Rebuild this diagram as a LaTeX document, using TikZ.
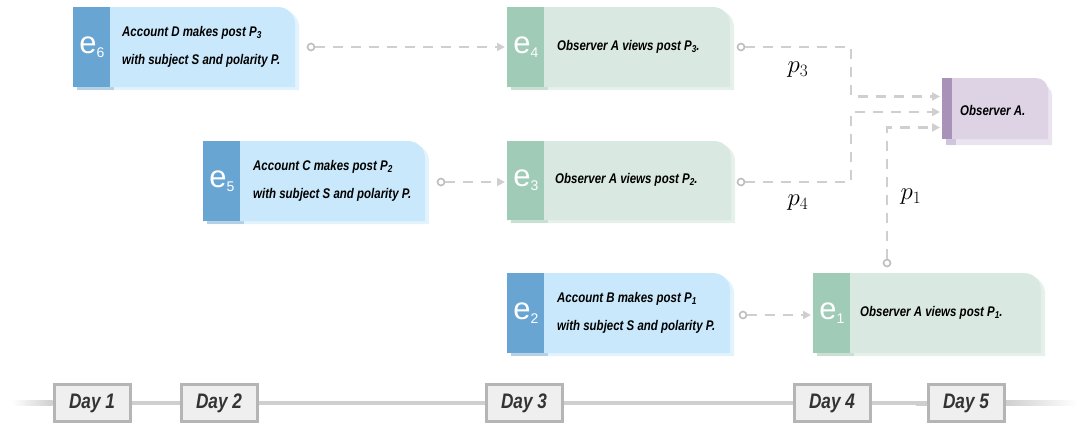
\documentclass[tikz,border=0pt]{standalone}
\usepackage[no-math]{fontspec}
\newfontfamily\condf[FakeStretch=0.82]{Liberation Sans}
\newfontfamily\efont{Liberation Sans}
\usetikzlibrary{arrows.meta,calc,backgrounds}
\definecolor{bstrip}{HTML}{69A5D3}
\definecolor{bbody}{HTML}{C9E8FB}
\definecolor{bshadow}{HTML}{E3F3FD}
\definecolor{bstripshadow}{HTML}{B4D0E5}
\definecolor{gstrip}{HTML}{9FCBB7}
\definecolor{gbody}{HTML}{D9E8E1}
\definecolor{gshadow}{HTML}{E7F1EC}
\definecolor{gstripshadow}{HTML}{CADFD4}
\definecolor{pstrip}{HTML}{A992B7}
\definecolor{pbody}{HTML}{DDD3E5}
\definecolor{pshadow}{HTML}{E9E4EF}
\definecolor{pstripshadow}{HTML}{D0C5DA}
\definecolor{linegray}{HTML}{CFCFCF}
\definecolor{dotgray}{HTML}{BDBDBD}
\definecolor{daygray}{HTML}{B5B5B5}
\definecolor{dayfill}{HTML}{EFEFEF}
\definecolor{daytext}{HTML}{333333}
\newcommand\lowsub[1]{\raisebox{-2pt}{\fontsize{10}{10}\selectfont #1}}
\newcommand\esub[1]{\raisebox{-4pt}{\fontsize{14}{14}\selectfont #1}}
% #1 node, #2 colour prefix, #3 strip width, #4 corner radius, #5 shadow shift
\newcommand\paintbox[5]{%
  \fill[#2shadow] ([shift={#5}]#1.south west) -- ([shift={#5}]#1.north west)
    -- ([shift={#5},xshift=-#4]#1.north east) arc[start angle=90,end angle=0,radius=#4]
    -- ([shift={#5}]#1.south east) -- cycle;
  \fill[#2stripshadow] ([shift={#5}]#1.south west) rectangle ([shift={#5},xshift=#3]#1.north west);
  \fill[#2body] (#1.south west) -- (#1.north west)
    -- ([xshift=-#4]#1.north east) arc[start angle=90,end angle=0,radius=#4]
    -- (#1.south east) -- cycle;
  \fill[#2strip] (#1.south west) rectangle ([xshift=#3]#1.north west);
}
\begin{document}
\begin{tikzpicture}[x=1pt,y=-1pt,
  region/.style n args={2}{rectangle, inner sep=0pt, outer sep=0pt,
    minimum width=#1pt, minimum height=#2pt, anchor=north west},
  evtext/.style={anchor=west, align=left, inner sep=0pt,
    font=\condf\bfseries\itshape\fontsize{14}{28}\selectfont},
  elabel/.style={inner sep=0pt, text=white, font=\efont\fontsize{31}{31}\selectfont},
  dot/.style={circle, draw=dotgray, line width=1.6pt, fill=white, inner sep=0pt, minimum size=7pt},
  conn/.style={draw=linegray, line width=2.4pt, dash pattern=on 10pt off 8pt,
    -{Triangle[length=8pt,width=8pt,fill=linegray]}, shorten >=2pt},
  plabel/.style={inner sep=0pt, font=\fontsize{26}{26}\selectfont},
  day/.style={draw=daygray, line width=3pt, fill=dayfill, minimum width=76pt,
    minimum height=37pt, inner sep=0pt, text=daytext,
    font=\condf\bfseries\itshape\fontsize{21}{21}\selectfont},
  tline/.style={draw=linegray, line width=3.5pt}]
\useasboundingbox (0,0) rectangle (1077,426);

% ---- timeline ----
\node[day] (d1) at (92,403) {Day 1};
\node[day] (d2) at (219,403) {Day 2};
\node[day] (d3) at (524,403) {Day 3};
\node[day] (d4) at (832,403) {Day 4};
\node[day] (d5) at (966,403) {Day 5};
\coordinate (tl) at (12,400.5);
\coordinate (tr) at (1077,405.5);
\coordinate (st) at (916,400.5);
\begin{scope}[on background layer]
\shade[left color=white, right color=linegray] (tl) rectangle ([yshift=-2.5pt]d1.west);
\shade[left color=linegray, right color=white] ([yshift=2.5pt]d5.east) rectangle (tr);
\fill[linegray] (st) rectangle ([yshift=-2.5pt]d5.west);
\draw[tline] (d1) -- (d2);
\draw[tline] (d2) -- (d3);
\draw[tline] (d3) -- (d4);
\draw[tline] (d4) -- (d5);
\end{scope}

% ---- event boxes ----
\node[region={222}{80}] (e6) at (73,7) {};
\node[region={223}{80}] (e4) at (507,7) {};
\node[region={222}{80}] (e5) at (203,141) {};
\node[region={224}{79}] (e3) at (507,141) {};
\node[region={223}{80}] (e2) at (507,273) {};
\node[region={228}{80}] (e1) at (813,273) {};
\node[region={106}{61}] (obs) at (942,78) {};

\paintbox{e6}{b}{37pt}{17pt}{(4,3)}
\paintbox{e4}{g}{37pt}{17pt}{(4,3)}
\paintbox{e5}{b}{37pt}{17pt}{(4,3)}
\paintbox{e3}{g}{37pt}{17pt}{(4,3)}
\paintbox{e2}{b}{37pt}{17pt}{(4,3)}
\paintbox{e1}{g}{37pt}{17pt}{(4,3)}
\paintbox{obs}{p}{10pt}{12pt}{(4,6)}

% e labels
\node[elabel] (e6l) at (92,47) {e\esub{6}};
\node[elabel] (e4l) at (526,47) {e\esub{4}};
\node[elabel] (e5l) at (222,181) {e\esub{5}};
\node[elabel] (e3l) at (526,180) {e\esub{3}};
\node[elabel] (e2l) at (526,313) {e\esub{2}};
\node[elabel] (e1l) at (832,313) {e\esub{1}};

% texts
\node[evtext] (e6t) at (122,47) {Account D makes post P\lowsub{3}\\with subject S and polarity P.};
\node[evtext] (e4t) at (557,47) {Observer A views post P\lowsub{3}.};
\node[evtext] (e5t) at (253,181) {Account C makes post P\lowsub{2}\\with subject S and polarity P.};
\node[evtext] (e3t) at (555,180) {Observer A views post P\lowsub{2}.};
\node[evtext] (e2t) at (557,313) {Account B makes post P\lowsub{1}\\with subject S and polarity P.};
\node[evtext] (e1t) at (860,313) {Observer A views post P\lowsub{1}.};
\node[evtext] (obst) at (960,110) {Observer A.};

% ---- connectors ----
\node[dot] (c6) at (311,47) {};
\node[dot] (c4) at (741,47) {};
\node[dot] (c5) at (441,182) {};
\node[dot] (c3) at (741,182) {};
\node[dot] (c2) at (743,315) {};
\node[dot] (c1) at (887,263) {};
\coordinate (t3) at ([yshift=12pt]obs.west);
\coordinate (t4) at ([yshift=-3.5pt]obs.west);
\coordinate (t1) at ([yshift=-19pt]obs.west);
\coordinate (k) at (851,0);

\draw[conn] (c6) -- (e4.west |- c6);
\draw[conn] (c5) -- (e3.west |- c5);
\draw[conn] (c2) -- (e1.west |- c2);
\draw[conn] (c4) -| (k |- t3) -- (t3);
\draw[conn] (c3) -| (k |- t4) -- (t4);
\draw[conn] (c1) |- (t1);

\node[plabel] (p3) at (798,70) {$p_3$};
\node[plabel] (p4) at (798,203) {$p_4$};
\node[plabel] (p1) at (911,197) {$p_1$};
\end{tikzpicture}
\end{document}
